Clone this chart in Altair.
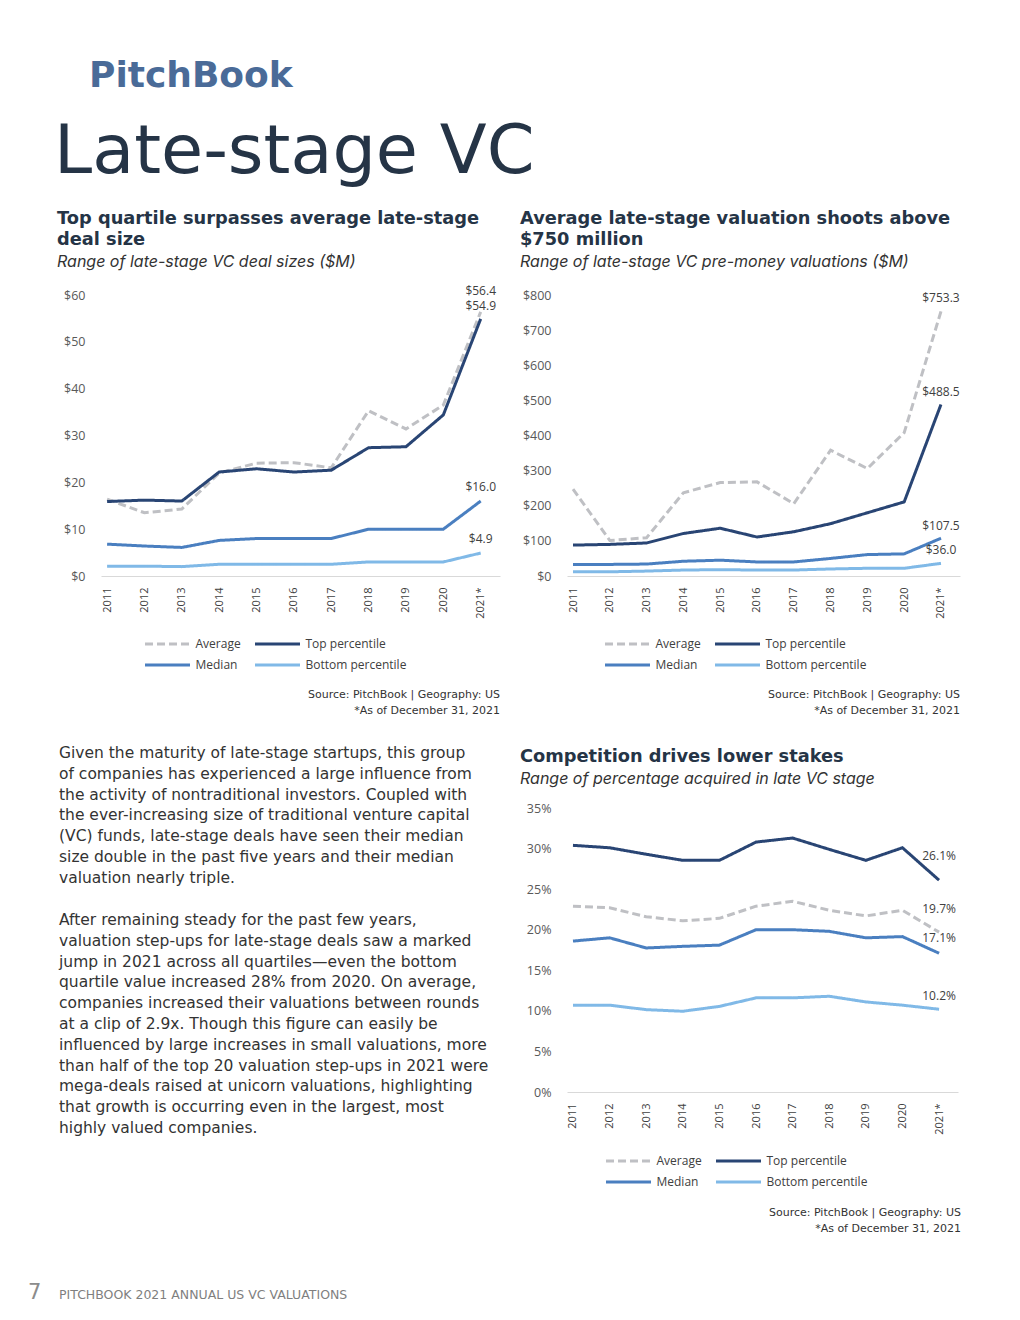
import altair as alt
import pandas as pd

years = ["2011", "2012", "2013", "2014", "2015", "2016", "2017", "2018", "2019", "2020", "2021*"]
series = ["Average", "Top percentile", "Median", "Bottom percentile"]
legend_order = ["Average", "Median", "Top percentile", "Bottom percentile"]

# Range of late-stage VC deal sizes ($M)
deal_avg = [16.4, 13.5, 14.3, 22.0, 24.1, 24.2, 23.1, 35.3, 31.4, 36.5, 56.4]
deal_top = [15.9, 16.2, 16.0, 22.2, 22.9, 22.2, 22.6, 27.4, 27.6, 34.4, 54.9]
deal_med = [6.8, 6.4, 6.1, 7.6, 8.0, 8.0, 8.0, 10.0, 10.0, 10.0, 16.0]
deal_bot = [2.1, 2.1, 2.0, 2.5, 2.5, 2.5, 2.5, 3.0, 3.0, 3.0, 4.9]

# Range of late-stage VC pre-money valuations ($M)
val_avg = [247, 101, 109, 237, 266, 268, 206, 358, 306, 408, 753.3]
val_top = [88, 90, 94, 121, 136, 111, 126, 149, 180, 211, 488.5]
val_med = [33, 33, 34, 42, 45, 40, 40, 50, 61, 63, 107.5]
val_bot = [12, 12, 14, 17, 18, 17, 17, 20, 22, 22, 36.0]

# Range of percentage acquired in late VC stage (%)
pct_avg = [22.9, 22.7, 21.6, 21.1, 21.4, 22.9, 23.5, 22.4, 21.7, 22.4, 19.7]
pct_top = [30.4, 30.1, 29.3, 28.55, 28.55, 30.8, 31.3, 29.9, 28.55, 30.1, 26.1]
pct_med = [18.6, 19.0, 17.75, 17.95, 18.1, 20.0, 20.0, 19.8, 19.0, 19.15, 17.1]
pct_bot = [10.7, 10.7, 10.15, 9.95, 10.55, 11.6, 11.6, 11.8, 11.1, 10.7, 10.2]

paragraph_1 = [
    "Given the maturity of late-stage startups, this group",
    "of companies has experienced a large influence from",
    "the activity of nontraditional investors. Coupled with",
    "the ever-increasing size of traditional venture capital",
    "(VC) funds, late-stage deals have seen their median",
    "size double in the past five years and their median",
    "valuation nearly triple.",
]
paragraph_2 = [
    "After remaining steady for the past few years,",
    "valuation step-ups for late-stage deals saw a marked",
    "jump in 2021 across all quartiles\u2014even the bottom",
    "quartile value increased 28% from 2020. On average,",
    "companies increased their valuations between rounds",
    "at a clip of 2.9x. Though this figure can easily be",
    "influenced by large increases in small valuations, more",
    "than half of the top 20 valuation step-ups in 2021 were",
    "mega-deals raised at unicorn valuations, highlighting",
    "that growth is occurring even in the largest, most",
    "highly valued companies.",
]

SERIES_COLORS = {"Average": "#bfc0c4", "Top percentile": "#294574",
                 "Median": "#4a7fc0", "Bottom percentile": "#80b9e7"}
SERIES_DASH = {"Average": [8, 4], "Top percentile": [1, 0],
               "Median": [1, 0], "Bottom percentile": [1, 0]}
TITLE_FONT = "DejaVu Sans"
LABEL_FONT = "Open Sans"
BODY_FONT = "DejaVu Sans"
INK = "#253446"


def line_panel(vals, ymax, ystep, prefix, suffix, width, height, title, subtitle,
               title_dx, legend_x, legend_y, dys, src_y, src_dx, title_offset, sub_pad):
    rows = []
    for s, arr in zip(series, vals):
        for y, v in zip(years, arr):
            rows.append({"year": y, "series": s, "value": v})
    df = pd.DataFrame(rows)
    base = alt.Chart(df)

    x = alt.X(
        "year:N", sort=years,
        scale=alt.Scale(type="point", padding=0.34, align=0.24),
        axis=alt.Axis(title=None, labelAngle=270, ticks=False, labelPadding=11,
                      labelFont=LABEL_FONT, labelFontSize=11, labelColor="#404040",
                      domainColor="#d9d9d9", domainWidth=1, grid=False),
    )
    y = alt.Y(
        "value:Q",
        scale=alt.Scale(domain=[0, ymax], nice=False, zero=True),
        axis=alt.Axis(title=None, values=list(range(0, ymax + 1, ystep)), grid=False,
                      domain=False, ticks=False, labelPadding=16,
                      labelExpr=f"'{prefix}' + datum.value + '{suffix}'",
                      labelFont=LABEL_FONT, labelFontSize=12.5, labelColor="#595959"),
    )
    leg = alt.Legend(orient="none", legendX=legend_x, legendY=legend_y,
                     columns=2, symbolType="stroke", symbolSize=2025, symbolStrokeWidth=3,
                     clipHeight=16, rowPadding=5, columnPadding=12, padding=0,
                     labelFont=LABEL_FONT, labelFontSize=12, labelColor="#404040", labelOffset=4)
    color = alt.Color("series:N", sort=legend_order, title=None,
                      scale=alt.Scale(domain=legend_order,
                                      range=[SERIES_COLORS[s] for s in legend_order]),
                      legend=leg)
    dash = alt.StrokeDash("series:N", sort=legend_order, title=None,
                          scale=alt.Scale(domain=legend_order,
                                          range=[SERIES_DASH[s] for s in legend_order]),
                          legend=leg)

    lines = base.mark_line(strokeWidth=3, strokeCap="butt").encode(
        x=x, y=y, color=color, strokeDash=dash
    )

    layers = [lines]
    for s in series:
        layers.append(
            base.transform_filter((alt.datum.year == "2021*") & (alt.datum.series == s))
            .transform_calculate(lab=f"'{prefix}' + format(datum.value, '.1f') + '{suffix}'")
            .mark_text(dy=dys[s], font=LABEL_FONT, fontSize=12, color="#404040")
            .encode(x=x, y=y, text="lab:N")
        )

    one = pd.DataFrame({"k": [0]})
    for i, t in enumerate(["Source: PitchBook | Geography: US", "*As of December 31, 2021"]):
        layers.append(
            alt.Chart(one).mark_text(text=t, align="right", baseline="alphabetic",
                                     font=BODY_FONT, fontSize=11, color="#333333")
            .encode(x=alt.value(width + src_dx), y=alt.value(src_y + 16 * i))
        )

    return alt.layer(*layers).properties(
        width=width, height=height,
        title=alt.TitleParams(
            text=title, subtitle=subtitle, anchor="start", frame="group", dx=title_dx,
            offset=title_offset, font=TITLE_FONT, fontSize=17.8, fontWeight="bold", color=INK,
            lineHeight=21, subtitleFont="Inter", subtitleFontStyle="italic",
            subtitleFontSize=16, subtitleColor="#333333", subtitlePadding=sub_pad,
        ),
    )


c1 = line_panel(
    [deal_avg, deal_top, deal_med, deal_bot], 60, 10, "$", "", 399, 281,
    ["Top quartile surpasses average late-stage", " deal size"],
    "Range of late-stage VC deal sizes ($M)", -44, 42.5, 341,
    {"Average": -21, "Top percentile": -13, "Median": -14, "Bottom percentile": -14},
    403, 0, 15, 5,
)
c2 = line_panel(
    [val_avg, val_top, val_med, val_bot], 800, 100, "$", "", 393, 281,
    ["Average late-stage valuation shoots above", "$750 million"],
    "Range of late-stage VC pre-money valuations ($M)", -47, 36.5, 341,
    {"Average": -13, "Top percentile": -12, "Median": -12, "Bottom percentile": -13},
    403, 0, 19, 5,
)
c3 = line_panel(
    [pct_avg, pct_top, pct_med, pct_bot], 35, 5, "", "%", 391, 284,
    "Competition drives lower stakes",
    "Range of percentage acquired in late VC stage", -47, 37.5, 345,
    {"Average": -23, "Top percentile": -24, "Median": -15, "Bottom percentile": -13},
    408, 3, 15, 5,
)

one = pd.DataFrame({"k": [0]})


def free_text(text, xv, yv, **kw):
    return alt.Chart(one).mark_text(text=text, align="left", **kw).encode(
        x=alt.value(xv), y=alt.value(yv)
    )


text_panel = alt.layer(
    free_text("PitchBook", -12, -721, baseline="alphabetic", font=BODY_FONT,
              fontSize=36, fontWeight="bold", color="#4a6b98"),
    free_text("Late-stage VC", -47, -635, baseline="alphabetic", font=BODY_FONT,
              fontSize=68.5, color=INK),
    free_text(paragraph_1, -42, -62, baseline="top", font=BODY_FONT, fontSize=15.5,
              lineHeight=20.8, color="#333333"),
    free_text(paragraph_2, -42, 105, baseline="top", font=BODY_FONT, fontSize=15.5,
              lineHeight=20.8, color="#333333"),
    free_text("7", -73, 491, baseline="alphabetic", font=BODY_FONT, fontSize=21,
              color="#8c8c8c"),
    free_text("PITCHBOOK 2021 ANNUAL US VC VALUATIONS", -42, 491, baseline="alphabetic",
              font=BODY_FONT, fontSize=12.5, color="#7f7f7f"),
).properties(width=399, height=284)

chart = (
    alt.concat(c1, c2, text_panel, c3, columns=2,
               spacing={"row": 232, "column": 67}, bounds="flush")
    .resolve_scale(color="independent", strokeDash="independent")
    .properties(padding={"left": 20, "top": 50, "right": 5, "bottom": 5}, background="white")
    .configure_view(stroke=None)
)

chart.save("out.html", embed_options={"renderer": "svg", "actions": False})
